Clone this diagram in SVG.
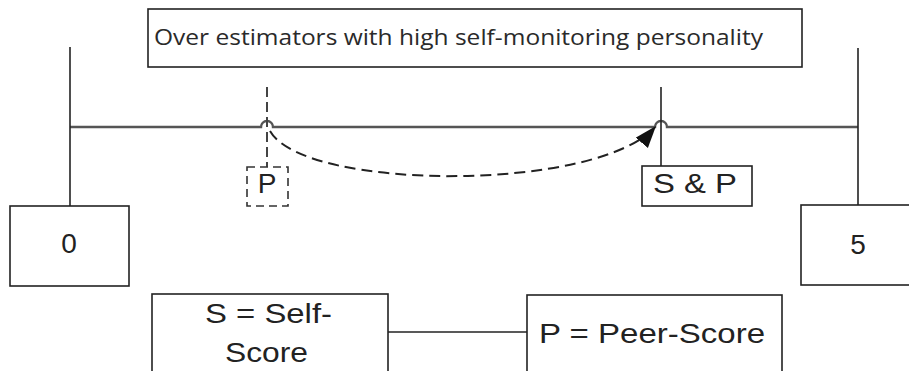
<svg xmlns="http://www.w3.org/2000/svg" width="909" height="371" viewBox="0 0 909 371">
<style>
.box{fill:#fff;stroke:#222;stroke-width:1.6}
.dbox{fill:#fff;stroke:#333;stroke-width:1.6;stroke-dasharray:8 5}
.lbl{font-family:"Liberation Sans",Arial,sans-serif;font-size:28px;fill:#222;text-anchor:middle}
.title{font-family:"Open Sans","Noto Sans",sans-serif;font-size:22px;fill:#2a2a2a}
.axis{fill:none;stroke:#555;stroke-width:2.4}
.tick{fill:none;stroke:#222;stroke-width:1.6}
.dtick{fill:none;stroke:#444;stroke-width:2;stroke-dasharray:10 5}
.flow{fill:none;stroke:#222;stroke-width:2;stroke-dasharray:11 6}
</style>
<defs>
<marker id="arr" markerUnits="userSpaceOnUse" markerWidth="26" markerHeight="18" refX="22" refY="8" orient="auto">
<path d="M0,0 L22,8 L0,16 Z" fill="#111"/>
</marker>
</defs>
<rect width="909" height="371" fill="#fff"/>
<g id="connectors">
<path class="axis" d="M70,127 H261 A6,6 0 0 1 273,127 H655 A6,6 0 0 1 667,127 H858"/>
<line class="tick" x1="70" y1="47" x2="70" y2="206"/>
<line class="tick" x1="858" y1="48" x2="858" y2="205"/>
<line class="tick" x1="661" y1="87" x2="661" y2="166"/>
<line class="dtick" x1="267" y1="87" x2="267" y2="167"/>
<path class="flow" d="M270,131 C305,192 600,192 656,126" marker-end="url(#arr)"/>
<line class="tick" x1="388" y1="332" x2="527" y2="332"/>
</g>
<g id="title">
<rect class="box" x="148" y="9" width="654" height="58"/>
<text class="title" x="154" y="45" textLength="609" lengthAdjust="spacingAndGlyphs">Over estimators with high self-monitoring personality</text>
</g>
<g id="tick0">
<rect class="box" x="10" y="206" width="119" height="80"/>
<text class="lbl" x="69" y="253">0</text>
</g>
<g id="tick5">
<rect class="box" x="801" y="205" width="120" height="80"/>
<text class="lbl" x="858" y="254">5</text>
</g>
<g id="peer">
<rect class="dbox" x="247" y="167" width="41" height="39"/>
<text class="lbl" x="267" y="193">P</text>
</g>
<g id="selfpeer">
<rect class="box" x="642" y="166" width="110" height="40"/>
<text class="lbl" x="695" y="193" textLength="84" lengthAdjust="spacingAndGlyphs">S &amp; P</text>
</g>
<g id="legendS">
<rect class="box" x="152" y="294" width="236" height="90"/>
<text class="lbl" x="268.5" y="323" textLength="127" lengthAdjust="spacingAndGlyphs">S = Self-</text>
<text class="lbl" x="266.5" y="362" textLength="83" lengthAdjust="spacingAndGlyphs">Score</text>
</g>
<g id="legendP">
<rect class="box" x="527" y="295" width="255" height="90"/>
<text class="lbl" x="652" y="343" textLength="226" lengthAdjust="spacingAndGlyphs">P = Peer-Score</text>
</g>
</svg>
